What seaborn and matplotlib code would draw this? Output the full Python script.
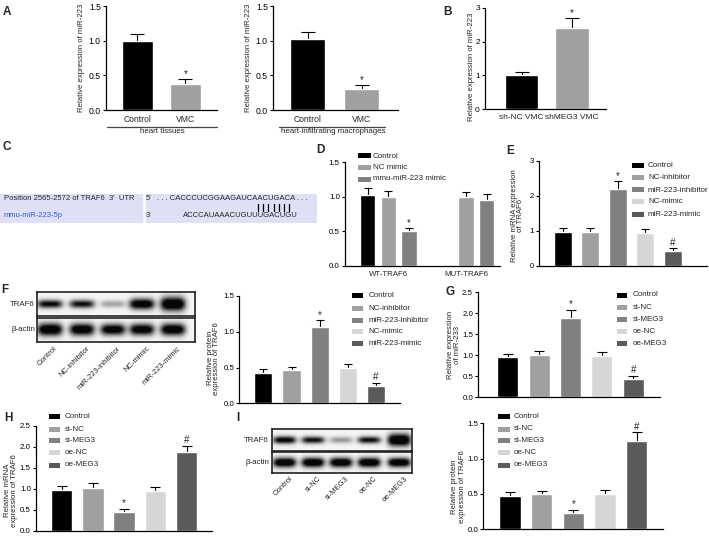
import numpy as np
import pandas as pd
import matplotlib
matplotlib.use("Agg")
import matplotlib.pyplot as plt
import seaborn as sns
from matplotlib.patches import Rectangle
from matplotlib.lines import Line2D

# ---------------- data ----------------
a1_cats = ["Control", "VMC"]
a1_vals = [0.99, 0.38]
a1_errs = [0.11, 0.06]
a1_marks = ["", "*"]

a2_cats = ["Control", "VMC"]
a2_vals = [1.03, 0.31]
a2_errs = [0.09, 0.05]
a2_marks = ["", "*"]

b_cats = ["sh-NC VMC", "shMEG3 VMC"]
b_vals = [1.02, 2.42]
b_errs = [0.08, 0.27]
b_marks = ["", "*"]

d_groups = ["WT-TRAF6", "MUT-TRAF6"]
d_conds = ["Control", "NC mimic", "mmu-miR-223 mimic"]
d_group_col = ["WT-TRAF6", "WT-TRAF6", "WT-TRAF6", "MUT-TRAF6", "MUT-TRAF6"]
d_cond_col = ["Control", "NC mimic", "mmu-miR-223 mimic", "NC mimic", "mmu-miR-223 mimic"]
d_vals = [1.03, 1.00, 0.51, 0.99, 0.95]
d_errs = [0.09, 0.09, 0.035, 0.08, 0.09]
d_marks = ["", "", "*", "", ""]

e_cats = ["Control", "NC-inhibitor", "miR-223-inhibitor", "NC-mimic", "miR-223-mimic"]
e_vals = [0.96, 0.97, 2.19, 0.93, 0.42]
e_errs = [0.11, 0.10, 0.23, 0.11, 0.08]
e_marks = ["", "", "*", "", "#"]

f_cats = ["Control", "NC-inhibitor", "miR-223-inhibitor", "NC-mimic", "miR-223-mimic"]
f_vals = [0.43, 0.47, 1.06, 0.50, 0.24]
f_errs = [0.055, 0.04, 0.10, 0.055, 0.045]
f_marks = ["", "", "*", "", "#"]
f_traf6_band = [1.05, 1.0, 0.35, 1.25, 1.35]
f_actin_band = [1.3, 1.25, 1.2, 1.2, 1.25]

g_cats = ["Control", "si-NC", "si-MEG3", "oe-NC", "oe-MEG3"]
g_vals = [0.97, 1.00, 1.89, 0.98, 0.43]
g_errs = [0.06, 0.10, 0.19, 0.10, 0.08]
g_marks = ["", "", "*", "", "#"]

h_cats = ["Control", "si-NC", "si-MEG3", "oe-NC", "oe-MEG3"]
h_vals = [0.98, 1.02, 0.44, 0.945, 1.87]
h_errs = [0.09, 0.11, 0.08, 0.095, 0.15]
h_marks = ["", "", "*", "", "#"]

i_cats = ["Control", "si-NC", "si-MEG3", "oe-NC", "oe-MEG3"]
i_vals = [0.47, 0.49, 0.23, 0.50, 1.25]
i_errs = [0.05, 0.05, 0.04, 0.055, 0.12]
i_marks = ["", "", "*", "", "#"]
i_traf6_band = [1.1, 1.0, 0.4, 1.0, 1.4]
i_actin_band = [1.3, 1.3, 1.3, 1.3, 1.3]

# ---------------- style ----------------
sns.set_style("ticks")
plt.rcParams["font.family"] = ["Liberation Sans", "DejaVu Sans"]
plt.rcParams["axes.linewidth"] = 0.9
plt.rcParams["axes.edgecolor"] = "black"

BLACK = "#000000"
GRAY = "#a0a0a0"
MID = "#808080"
LIGHT = "#d6d6d6"
DARK = "#5a5a5a"
pal5 = [BLACK, GRAY, MID, LIGHT, DARK]

W, H = 709, 536
fig = plt.figure(figsize=(W / 100, H / 100), dpi=100)
fig.patch.set_facecolor("white")


def axes_px(x0, ytop, x1, ybot):
    return fig.add_axes([x0 / W, 1 - ybot / H, (x1 - x0) / W, (ybot - ytop) / H])


def ftext(x, y, s, **kw):
    return fig.text(x / W, 1 - y / H, s, **kw)


def fline(x0, y0, x1, y1, **kw):
    fig.add_artist(Line2D([x0 / W, x1 / W], [1 - y0 / H, 1 - y1 / H],
                          transform=fig.transFigure, **kw))


def style_axes(ax, ylim, yticks, yfmt, fs, ylabel, ylab_px, x0, x1, ylab_frac, xlabels):
    sns.despine(ax=ax)
    ax.set_ylim(*ylim)
    ax.set_yticks(yticks)
    ax.set_yticklabels([yfmt.format(t) for t in yticks])
    ax.tick_params(axis="y", length=2.5, width=0.8, labelsize=fs, pad=1.2, colors="black")
    ax.tick_params(axis="x", length=0, labelsize=fs, pad=3.5)
    ax.set_xlabel("")
    if not xlabels:
        ax.set_xticklabels([])
    ax.set_ylabel(ylabel, fontsize=5.6, va="center", ha="center", linespacing=1.0)
    ax.yaxis.set_label_coords((ylab_px - x0) / (x1 - x0), ylab_frac)
    ax.set_facecolor("none")


def add_err(ax, xc, h, e, mark, capsize, fs=7):
    ax.errorbar([xc], [h], yerr=[[0], [e]], fmt="none", ecolor="black",
                elinewidth=0.8, capsize=capsize, capthick=0.8, zorder=1)
    if mark:
        ax.annotate(mark, (xc, h + e), xytext=(0, 0.3), textcoords="offset points",
                    ha="center", va="bottom", fontsize=fs)


def bar_panel(px, c0, unit, cats, vals, errs, marks, colors, width, ylim, yticks,
              yfmt, fs, ylabel, ylab_px, ylab_frac, capsize, xlabels=True):
    x0, ytop, x1, ybot = px
    ax = axes_px(x0, ytop, x1, ybot)
    df = pd.DataFrame({"cat": cats, "val": vals})
    sns.barplot(data=df, x="cat", y="val", hue="cat", order=cats, hue_order=cats,
                palette=colors, width=width, errorbar=None, legend=False,
                saturation=1, ax=ax, zorder=2)
    ax.set_xlim((x0 - c0) / unit, (x1 - c0) / unit)
    errd = dict(zip(cats, errs))
    markd = dict(zip(cats, marks))
    for bar in list(ax.patches):
        h = bar.get_height()
        if not np.isfinite(h) or h == 0:
            continue
        xc = bar.get_x() + bar.get_width() / 2
        c = cats[int(round(xc))]
        add_err(ax, xc, h, errd[c], markd[c], capsize)
    style_axes(ax, ylim, yticks, yfmt, fs, ylabel, ylab_px, x0, x1, ylab_frac, xlabels)
    return ax


def legend_px(x_sq, w_sq, x_txt, ys, labels, colors, fs=5.8, h_sq=5):
    for y, lab, c in zip(ys, labels, colors):
        fig.add_artist(Rectangle((x_sq / W, 1 - (y + h_sq / 2) / H), w_sq / W, h_sq / H,
                                 transform=fig.transFigure, facecolor=c, edgecolor="none"))
        ftext(x_txt, y, lab, fontsize=fs, va="center", ha="left")


def blot(x0, y0, x1, y1, lanes, intens, half_w, thick):
    ax = axes_px(x0, y0, x1, y1)
    nx = int((x1 - x0) * 4)
    ny = int((y1 - y0) * 4)
    xs = np.linspace(x0, x1, nx)
    ys = np.linspace(-1, 1, ny)
    img = np.zeros((ny, nx))
    for c, a, t in zip(lanes, intens, thick):
        px_ = np.exp(-((xs - c) / half_w) ** 4)
        py_ = np.exp(-(ys / t) ** 2)
        img += a * np.outer(py_, px_)
    img = np.clip(img, 0, 1)
    ax.imshow(0.96 - 0.93 * img, cmap="gray", vmin=0, vmax=1, aspect="auto",
              extent=[x0, x1, -1, 1], interpolation="bilinear")
    ax.set_xticks([])
    ax.set_yticks([])
    for s in ax.spines.values():
        s.set_linewidth(1.2)
        s.set_color("#222222")
    return ax


# ---------------- panel letters ----------------
for L, (x, y) in {"A": (7, 12), "B": (447, 12), "C": (7, 147), "D": (320, 150),
                  "E": (510, 151), "F": (5, 290), "G": (450, 292), "H": (8, 418),
                  "I": (238, 418)}.items():
    ftext(x, y, L, fontsize=8.5, fontweight="bold", ha="center", va="center")

# ---------------- A ----------------
bar_panel((106, 6, 217, 110), 137.5, 48, a1_cats, a1_vals, a1_errs, a1_marks,
          [BLACK, GRAY], 0.66, (0, 1.5), [0, 0.5, 1.0, 1.5], "{:.1f}", 6.2,
          "Relative expression of miR-223", 82, 0.5, 5.0)
fline(107, 127, 217, 127, color="#444444", lw=0.9)
ftext(162, 132, "heart tissues", fontsize=5.7, ha="center", va="center")

bar_panel((273, 6, 398, 110), 307.5, 54, a2_cats, a2_vals, a2_errs, a2_marks,
          [BLACK, GRAY], 0.65, (0, 1.5), [0, 0.5, 1.0, 1.5], "{:.1f}", 6.2,
          "Relative expression of miR-223", 249, 0.5, 5.0)
fline(279, 127, 385, 127, color="#444444", lw=0.9)
ftext(333, 132, "heart-infiltrating macrophages", fontsize=5.7, ha="center", va="center")

# ---------------- B ----------------
bar_panel((485, 8, 606, 109), 521.7, 50.3, b_cats, b_vals, b_errs, b_marks,
          [BLACK, GRAY], 0.66, (0, 3), [0, 1, 2, 3], "{:.0f}", 6.0,
          "Relative expression of miR-223", 471, 0.42, 5.0)

# ---------------- C ----------------
fig.add_artist(Rectangle((0, 1 - 223 / H), 317 / W, 29 / H, transform=fig.transFigure,
                         facecolor="#dfe0f5", edgecolor="none"))
fline(144, 194, 144, 223, color="white", lw=1.8)
ftext(4, 199, "Position 2565-2572 of TRAF6  3'  UTR", fontsize=5.5, va="center")
ftext(4, 215.7, "mmu-miR-223-5p", fontsize=5.5, va="center", color="#2d5fd8")
ftext(146, 199, "5'", fontsize=5.5, va="center")
ftext(146, 215.7, "3'", fontsize=5.5, va="center")
ftext(157, 199, ". . . CACCCUCGGAAGAUCAACUGACA . . .", fontsize=5.5, va="center")
ftext(183, 215.7, "ACCCAUAAACUGUUUGACUGU", fontsize=5.5, va="center")
for k in range(7):
    xx = 258 + k * 5.2
    fline(xx, 204, xx, 211, color="black", lw=0.9)

# ---------------- D ----------------
dx0, dyt, dx1, dyb = 345, 162.3, 500, 265.7
axd = axes_px(dx0, dyt, dx1, dyb)
ddf = pd.DataFrame({"group": d_group_col, "cond": d_cond_col, "val": d_vals})
sns.barplot(data=ddf, x="group", y="val", hue="cond", order=d_groups, hue_order=d_conds,
            palette=[BLACK, GRAY, MID], width=0.8, gap=0.26, errorbar=None,
            legend=False, saturation=1, ax=axd, zorder=2)
axd.set_xlim((dx0 - 388.3) / 77.7, (dx1 - 388.3) / 77.7)
d_err = {(g, c): e for g, c, e in zip(d_group_col, d_cond_col, d_errs)}
d_mk = {(g, c): m for g, c, m in zip(d_group_col, d_cond_col, d_marks)}
for cont, cond in zip(axd.containers, d_conds):
    for bar in cont:
        h = bar.get_height()
        if not np.isfinite(h) or h == 0:
            continue
        xc = bar.get_x() + bar.get_width() / 2
        g = d_groups[int(round(xc))]
        add_err(axd, xc, h, d_err[(g, cond)], d_mk[(g, cond)], 2.6)
style_axes(axd, (0, 1.5), [0, 0.5, 1.0, 1.5], "{:.1f}", 5.7,
           "Relative luciferase activity", 325, 0.47, dx0, dx1, True)
legend_px(358, 13, 373, [156, 167.3, 179], d_conds, [BLACK, GRAY, MID])

# ---------------- E ----------------
bar_panel((539, 160.7, 707, 265.7), 562.7, 27.5, e_cats, e_vals, e_errs, e_marks,
          pal5, 0.667, (0, 3), [0, 1, 2, 3], "{:.0f}", 5.7,
          "Relative mRNA expression\nof TRAF6", 517.5, 0.48, 3.0, xlabels=False)
legend_px(632, 11.5, 648, [165.7, 177.7, 190, 201.7, 214], e_cats, pal5)

# ---------------- F ----------------
f_lanes = [50, 82, 113, 142, 173]
blot(37, 292.3, 195, 315.7, f_lanes, f_traf6_band, 12.5, [0.34, 0.34, 0.3, 0.45, 0.58])
blot(37, 317.7, 195, 342.3, f_lanes, f_actin_band, 12.5, [0.5, 0.48, 0.45, 0.46, 0.48])
ftext(35, 304, "TRAF6", fontsize=5.7, ha="right", va="center")
ftext(35, 329.5, "β-actin", fontsize=5.7, ha="right", va="center")
for lx, lab in zip(f_lanes, f_cats):
    ftext(lx + 4, 345, lab, fontsize=5.5, rotation=45, ha="right", va="top",
          rotation_mode="anchor")

bar_panel((239.3, 296, 400, 403.3), 263.3, 28.2, f_cats, f_vals, f_errs, f_marks,
          pal5, 0.65, (0, 1.5), [0, 0.5, 1.0, 1.5], "{:.1f}", 5.7,
          "Relative protein\nexpression of TRAF6", 213.5, 0.42, 3.0, xlabels=False)
legend_px(351.7, 11.6, 368.3, [295.7, 308.3, 320, 331.7, 343.3], f_cats, pal5)

# ---------------- G ----------------
bar_panel((478.3, 292.3, 660, 397.3), 507.7, 31.4, g_cats, g_vals, g_errs, g_marks,
          pal5, 0.67, (0, 2.5), [0, 0.5, 1.0, 1.5, 2.0, 2.5], "{:.1f}", 5.7,
          "Relative expression\nof miR-233", 454, 0.5, 3.3, xlabels=False)
legend_px(616.7, 10.6, 632.3, [295, 307.3, 319.3, 331.7, 343.3], g_cats, pal5)

# ---------------- H ----------------
bar_panel((36, 425.7, 211.7, 530.7), 61.7, 31.25, h_cats, h_vals, h_errs, h_marks,
          pal5, 0.69, (0, 2.5), [0, 0.5, 1.0, 1.5, 2.0, 2.5], "{:.1f}", 5.7,
          "Relative mRNA\nexpression of TRAF6", 11, 0.38, 3.4, xlabels=False)
legend_px(49.3, 10.7, 65, [416.7, 429.3, 440.7, 452.7, 465], h_cats, pal5)

# ---------------- I ----------------
i_lanes = [284.3, 312.7, 340.7, 369, 399]
blot(271.7, 429.3, 411.7, 450.7, i_lanes, i_traf6_band, 11.5, [0.34, 0.32, 0.3, 0.32, 0.55])
blot(271.7, 452.3, 411.7, 472.7, i_lanes, i_actin_band, 11.5, [0.46, 0.46, 0.46, 0.46, 0.44])
ftext(269, 440.7, "TRAF6", fontsize=5.7, ha="right", va="center")
ftext(269, 462.3, "β-actin", fontsize=5.7, ha="right", va="center")
for lx, lab in zip(i_lanes, i_cats):
    ftext(lx + 5, 475, lab, fontsize=5.5, rotation=45, ha="right", va="top",
          rotation_mode="anchor")

bar_panel((483.3, 423.3, 663.3, 529), 510, 31.7, i_cats, i_vals, i_errs, i_marks,
          pal5, 0.67, (0, 1.5), [0, 0.5, 1.0, 1.5], "{:.1f}", 5.7,
          "Relative protein\nexpression of TRAF6", 458.5, 0.40, 3.4, xlabels=False)
legend_px(498.3, 11.7, 514, [416.7, 429, 440.7, 452.7, 465], i_cats, pal5)

fig.savefig("out.png", dpi=100, facecolor="white")
